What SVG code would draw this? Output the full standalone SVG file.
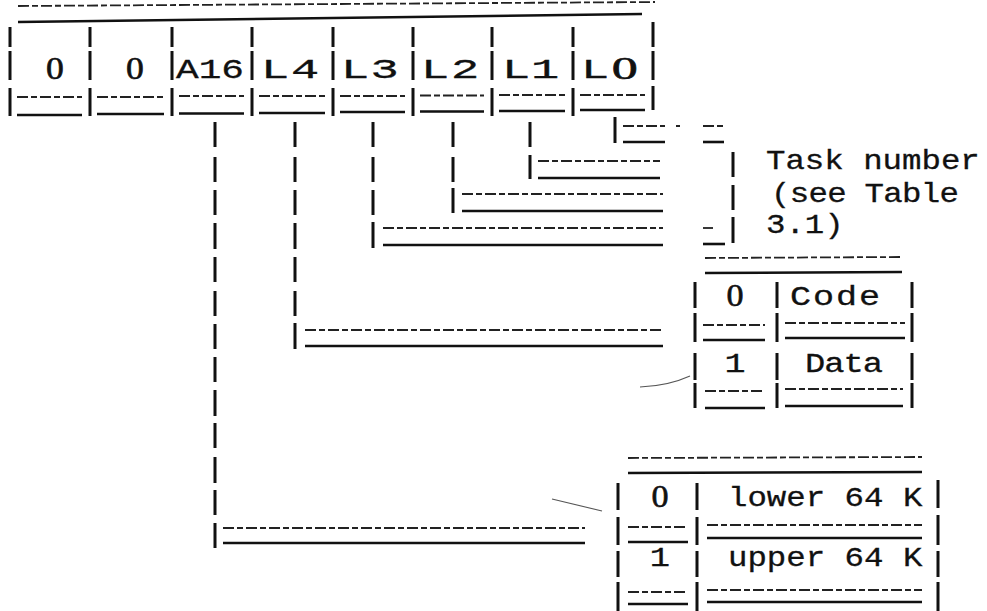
<svg xmlns="http://www.w3.org/2000/svg" width="987" height="611" viewBox="0 0 987 611">
<style>
.bar{stroke:#111;stroke-width:3;fill:none}
.dash{stroke:#222;stroke-width:1.8;stroke-dasharray:11 3 6 3;fill:none}
.solid{stroke:#111;stroke-width:2.6;fill:none}
.t{font-family:"Liberation Mono","DejaVu Sans Mono",monospace;font-size:27px;fill:#111;stroke:#111;stroke-width:0.3}
.tt{font-size:28px}
.z{font-family:"Liberation Serif","DejaVu Serif",serif;font-size:31px;stroke-width:0.6}
.m{text-anchor:middle}
.scr{fill:none;stroke:#555;stroke-width:1.1}
</style>
<rect width="987" height="611" fill="#fff"/>

<g id="register">
  <line class="dash" x1="18" y1="6" x2="655" y2="2"/>
  <line class="solid" x1="18" y1="22" x2="642" y2="14"/>
  <path class="bar" d="M10 27V47M10 51V80M10 88V116 M90 27V47M90 51V80M90 88V116 M172 27V47M172 51V80M172 88V116 M252 27V47M252 51V80M252 88V116 M333 27V47M333 51V80M333 88V116 M413 27V47M413 51V80M413 88V116 M492 27V47M492 51V80M492 88V116 M573 27V47M573 51V80M573 88V116 M653 22V47M653 51V80M653 86V110"/>
  <path class="dash" d="M17 97H82M97 97H164M179 96H244M259 96H325M340 96H405M420 95.5H484M499 95H565M580 95H645"/>
  <path class="solid" d="M17 115H82M97 114H164M179 113.5H244M259 113H325M340 112H405M420 111.5H484M499 111H565M580 110H645"/>
  <text class="t z m" transform="translate(55,79) scale(1.15,1)">0</text>
  <text class="t z m" transform="translate(135,79) scale(1.15,1)">0</text>
  <text class="t tt" transform="translate(176,78) scale(1.35,1)">A16</text>
  <text class="t tt" transform="translate(261,78) scale(1.68,1)" letter-spacing="1">L4</text>
  <text class="t tt" transform="translate(341,78) scale(1.68,1)" letter-spacing="0.8">L3</text>
  <text class="t tt" transform="translate(421,78) scale(1.68,1)" letter-spacing="1">L2</text>
  <text class="t tt" transform="translate(502,78) scale(1.68,1)" letter-spacing="0.5">L1</text>
  <text class="t tt" transform="translate(581,78) scale(1.68,1)" letter-spacing="1">L<tspan class="z" dx="0.5" dy="1">0</tspan></text>
</g>

<g id="connectors">
  <path class="bar" d="M215 122V147M215 157V182M215 190V215M215 223V249M215 257V282M215 291V316M215 324V349M215 357V382M215 390V416M215 423V448M215 457V483M215 490V515M215 523V548"/>
  <path class="dash" d="M223 528H585"/>
  <path class="solid" d="M223 543H585"/>
  <path class="bar" d="M295 122V147M295 157V182M295 190V215M295 223V249M295 257V282M295 291V316M295 323V349"/>
  <path class="dash" d="M305 330H663"/>
  <path class="solid" d="M305 346H663"/>
  <path class="bar" d="M373 122V147M373 157V182M373 190V215M373 222V248"/>
  <path class="dash" d="M383 228H663"/>
  <path class="solid" d="M383 245H663"/>
  <path class="bar" d="M453 122V147M453 157V182M453 188V213"/>
  <path class="dash" d="M462 194H663"/>
  <path class="solid" d="M462 211H663"/>
  <path class="bar" d="M530 122V147M530 155V179"/>
  <path class="dash" d="M538 161H660"/>
  <path class="solid" d="M538 178H660"/>
  <path class="bar" d="M615 117V143"/>
  <path class="dash" d="M623 126H665"/>
  <path class="solid" d="M623 142H665"/>
  <path class="scr" d="M640 387Q668 386 690 376"/>
  <path class="scr" d="M552 499L602 511"/>
</g>

<g id="task-note">
  <path class="dash" d="M703 126H723M676 126H680"/>
  <path class="solid" d="M703 142H724"/>
  <path class="dash" d="M703 228H713"/>
  <path class="solid" d="M703 244H725"/>
  <path class="bar" d="M733 152V177M733 185V210M733 217V243"/>
  <text class="t" transform="translate(766,169) scale(1.2,1)">Task number</text>
  <text class="t" transform="translate(771,202) scale(1.2,1)" letter-spacing="-0.6">(see Table</text>
  <text class="t" transform="translate(766,233) scale(1.2,1)">3.1)</text>
</g>

<g id="segment-table">
  <line class="dash" x1="705" y1="258" x2="900" y2="257"/>
  <line class="solid" x1="705" y1="273" x2="902" y2="272"/>
  <path class="bar" d="M695 282V308M695 313V342M695 353V380M695 383V408 M777 282V308M777 313V342M777 353V380M777 383V408 M912 282V308M912 313V342M912 353V380M912 383V408"/>
  <path class="dash" d="M703 325H765M785 323H905M705 391H765M785 389H903"/>
  <path class="solid" d="M703 340H765M785 338H905M705 408H765M785 406H903"/>
  <text class="t z m" transform="translate(735,306) scale(1.1,1)">0</text>
  <text class="t" transform="translate(790,305) scale(1.3,1)" letter-spacing="1.5">Code</text>
  <text class="t m" transform="translate(735,372) scale(1.3,1)">1</text>
  <text class="t" transform="translate(805,372) scale(1.25,1)" letter-spacing="-0.8">Data</text>
</g>

<g id="bank-table">
  <line class="dash" x1="628" y1="458" x2="922" y2="457"/>
  <line class="solid" x1="628" y1="473" x2="922" y2="472"/>
  <path class="bar" d="M618 483V510M618 517V545M618 551V577M618 582V611 M697 483V510M697 517V545M697 551V577M697 582V611 M938 480V508M938 515V545M938 551V577M938 582V611"/>
  <path class="dash" d="M628 527H688M707 525H922M628 592H688M707 590H922"/>
  <path class="solid" d="M628 542H688M707 538H922M628 604H688M707 602H922"/>
  <text class="t z m" transform="translate(660,507) scale(1.1,1)">0</text>
  <text class="t" transform="translate(728,506) scale(1.2,1)">lower 64 K</text>
  <text class="t m" transform="translate(660,566) scale(1.25,1)">1</text>
  <text class="t" transform="translate(728,566) scale(1.2,1)">upper 64 K</text>
</g>
</svg>
